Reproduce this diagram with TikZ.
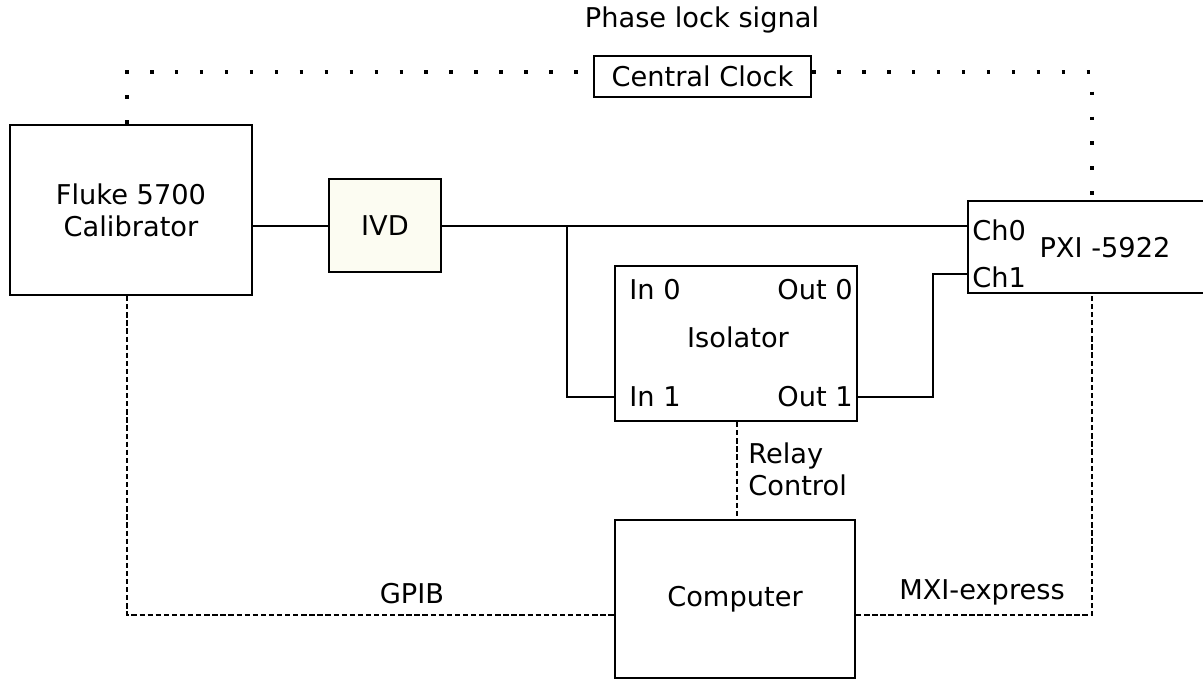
\documentclass[tikz,border=0pt]{standalone}
\usepackage{fontspec}
\setmainfont{DejaVu Sans}
\usepackage{xcolor}
\definecolor{ivdfill}{RGB}{252,252,242}

\begin{document}
\begin{tikzpicture}[
  box/.style={draw, line width=1.3pt, align=center, font=\fontsize{15.5}{18.2}\selectfont,
              inner sep=0pt},
  lin/.style={line width=1.2pt},
  ctl/.style={line width=1.1pt, dash pattern=on 3pt off 1.6pt},
  sync/.style={line width=2pt, dash pattern=on 2pt off 12.2pt},
  slbl/.style={font=\fontsize{15.5}{18.2}\selectfont, inner sep=0pt}
]
\useasboundingbox (0,0) rectangle (24.06,13.84);

%% Nodes
\node[box, minimum width=4.84cm, minimum height=3.4cm]
                           (fluke) at (2.62, 9.64)  {Fluke 5700\\Calibrator};
\node[box, fill=ivdfill, minimum width=2.24cm, minimum height=1.86cm]
                           (ivd)   at (7.70, 9.33)  {IVD};
\node[box, minimum width=4.84cm, minimum height=3.1cm]
                           (iso)   at (14.72, 6.97) {};
\node[box, minimum width=4.84cm, minimum height=1.84cm]
                           (pxi)   at (21.78, 8.90) {};
\node[box, minimum width=4.8cm, minimum height=3.16cm]
                           (pc)    at (14.70, 1.86) {Computer};
\node[box, minimum width=4.34cm, minimum height=0.82cm]
                           (clk)   at (14.05, 12.31) {Central Clock};

%% Texts inside the boxes
\node[slbl] (in0)   at (13.10, 8.04) {In 0};
\node[slbl] (out0)  at (16.30, 8.04) {Out 0};
\node[slbl] (isol)  at (14.76, 7.10) {Isolator};
\node[slbl] (in1)   at (13.10, 5.90) {In 1};
\node[slbl] (out1)  at (16.30, 5.90) {Out 1};
\node[slbl, anchor=west] (ch0) at (19.44, 9.24) {Ch0};
\node[slbl, anchor=west] (ch1) at (19.44, 8.30) {Ch1};
\node[slbl] (pxin)  at (22.10, 8.88) {PXI -5922};

%% Signal path
\coordinate (split) at (11.34, 9.32);
\draw[lin] (fluke.east |- split) -- (ivd.west |- split);
\draw[lin] (ivd.east |- split) -- (pxi.west |- split);
\draw[lin] (split) |- (iso.west |- in1);
\coordinate (bend) at (18.66, 8.36);
\draw[lin] (iso.east |- in1) -| (bend) -- (pxi.west |- bend);

%% Phase lock (dotted)
\coordinate (lockL) at (2.54, 12.40);
\coordinate (lockR) at (21.84, 12.40);
\draw[sync] (fluke.north -| lockL) -- (lockL) -- (clk.west |- lockL);
\draw[sync] (clk.east |- lockR) -- (lockR) -- (pxi.north -| lockR);
\node[slbl] (phase) at (14.04, 13.44) {Phase lock signal};

%% Control buses (dashed)
\coordinate (busL) at (2.54, 1.54);
\coordinate (busR) at (21.84, 1.54);
\draw[ctl] (fluke.south -| busL) -- (busL) -- (pc.west |- busL);
\draw[ctl] (pc.east |- busR) -- (busR) -- (pxi.south -| busR);
\draw[ctl] (iso.south -| 14.74,0) -- (pc.north -| 14.74,0);
\node[slbl] (gpib) at (8.24, 1.96) {GPIB};
\node[slbl] (mxi)  at (19.64, 2.00) {MXI-express};
\node[slbl, align=left, anchor=west] (relay) at (14.96, 4.46) {Relay\\Control};

\end{tikzpicture}
\end{document}
